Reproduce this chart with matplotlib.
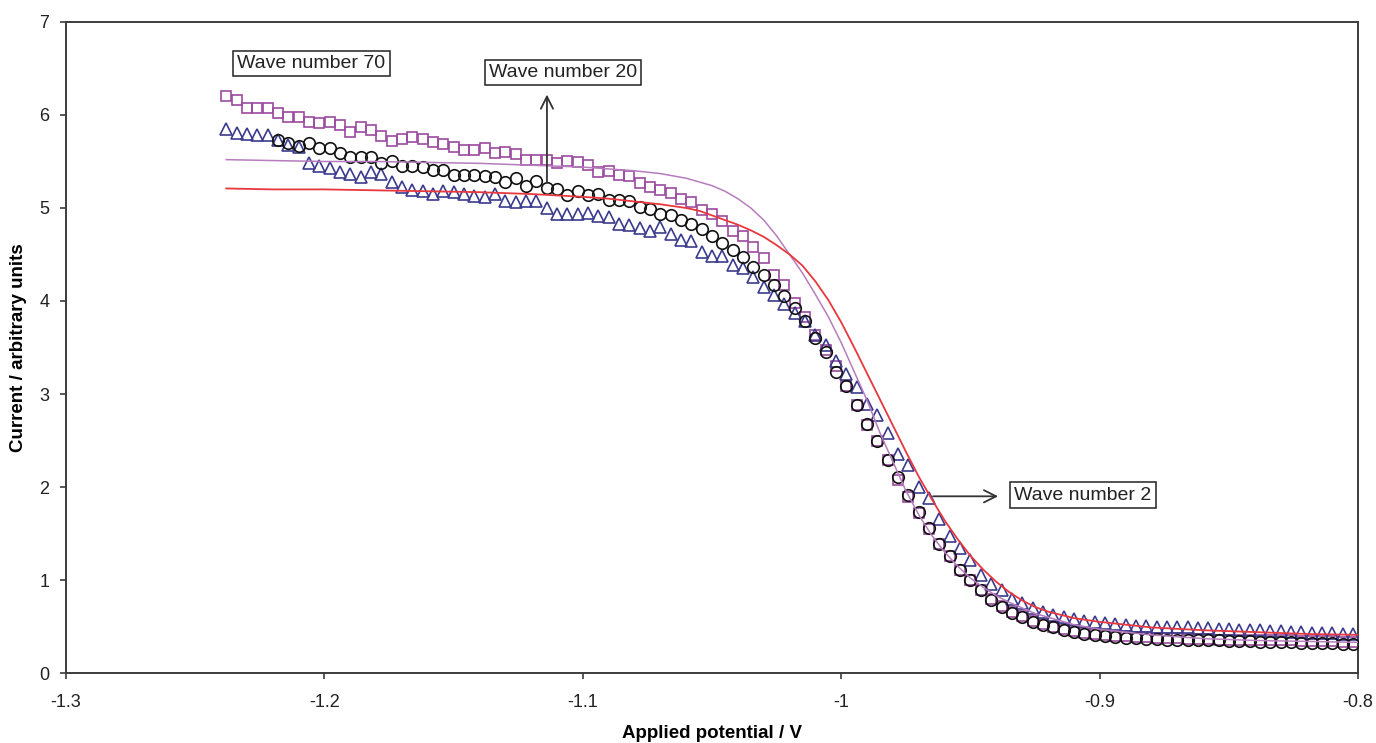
import numpy as np
import matplotlib
matplotlib.use("Agg")
from matplotlib import pyplot as plt

plt.rcParams["font.family"] = ["Liberation Sans", "DejaVu Sans"]

# ------------------------------------------------------------- #
# Data
# ------------------------------------------------------------- #

# measured waves are sampled every 4 mV from -1.238 V
potential_start = -1.238
potential_step = 0.004
potential = np.round(potential_start + potential_step * np.arange(110), 3)

# wave number 70 (squares)
wave70 = [
    6.20, 6.16, 6.07, 6.08, 6.07, 6.02, 5.98, 5.98, 5.92, 5.91,
    5.93, 5.89, 5.82, 5.87, 5.84, 5.77, 5.72, 5.74, 5.76, 5.74,
    5.71, 5.69, 5.66, 5.62, 5.62, 5.64, 5.59, 5.60, 5.58, 5.52,
    5.52, 5.52, 5.48, 5.51, 5.49, 5.46, 5.39, 5.40, 5.35, 5.34,
    5.27, 5.23, 5.19, 5.16, 5.10, 5.06, 4.98, 4.94, 4.86, 4.75,
    4.70, 4.58, 4.46, 4.28, 4.17, 3.98, 3.83, 3.63, 3.47, 3.30,
    3.09, 2.88, 2.67, 2.49, 2.29, 2.08, 1.89, 1.72, 1.55, 1.39,
    1.26, 1.11, 1.00, 0.89, 0.80, 0.72, 0.66, 0.61, 0.56, 0.53,
    0.50, 0.47, 0.45, 0.43, 0.42, 0.41, 0.40, 0.40, 0.39, 0.39,
    0.38, 0.38, 0.38, 0.37, 0.37, 0.37, 0.36, 0.36, 0.36, 0.36,
    0.35, 0.35, 0.35, 0.35, 0.34, 0.34, 0.34, 0.34, 0.33, 0.33,
]

# wave number 20 (circles), starts at the 6th potential
wave20_first = 5
wave20 = [
    5.73, 5.70, 5.67, 5.70, 5.64,
    5.64, 5.59, 5.55, 5.55, 5.55, 5.48, 5.50, 5.45, 5.45, 5.44,
    5.41, 5.41, 5.35, 5.35, 5.36, 5.34, 5.33, 5.28, 5.32, 5.24,
    5.29, 5.22, 5.20, 5.14, 5.18, 5.14, 5.15, 5.09, 5.09, 5.07,
    5.01, 4.99, 4.94, 4.92, 4.87, 4.83, 4.77, 4.70, 4.62, 4.55,
    4.47, 4.37, 4.28, 4.17, 4.05, 3.92, 3.78, 3.60, 3.45, 3.24,
    3.09, 2.88, 2.68, 2.49, 2.29, 2.11, 1.91, 1.73, 1.56, 1.39,
    1.26, 1.11, 1.00, 0.89, 0.79, 0.71, 0.65, 0.60, 0.55, 0.52,
    0.49, 0.46, 0.44, 0.42, 0.41, 0.40, 0.39, 0.38, 0.38, 0.37,
    0.37, 0.36, 0.36, 0.36, 0.35, 0.35, 0.35, 0.34, 0.34, 0.34,
    0.33, 0.33, 0.33, 0.33, 0.32, 0.32, 0.32, 0.32, 0.31, 0.31,
]

# wave number 2 (triangles)
wave2 = [
    5.85, 5.81, 5.80, 5.78, 5.78, 5.73, 5.68, 5.66, 5.48, 5.45,
    5.43, 5.39, 5.37, 5.33, 5.39, 5.37, 5.28, 5.23, 5.19, 5.18,
    5.15, 5.18, 5.17, 5.15, 5.13, 5.12, 5.15, 5.07, 5.06, 5.07,
    5.08, 5.00, 4.94, 4.94, 4.94, 4.95, 4.91, 4.90, 4.83, 4.82,
    4.78, 4.75, 4.80, 4.72, 4.66, 4.64, 4.53, 4.48, 4.48, 4.39,
    4.35, 4.26, 4.15, 4.06, 3.97, 3.87, 3.78, 3.63, 3.53, 3.35,
    3.22, 3.08, 2.89, 2.77, 2.58, 2.36, 2.24, 2.00, 1.88, 1.66,
    1.47, 1.34, 1.22, 1.05, 0.96, 0.89, 0.80, 0.75, 0.70, 0.66,
    0.62, 0.60, 0.58, 0.56, 0.55, 0.54, 0.53, 0.52, 0.51, 0.51,
    0.50, 0.50, 0.49, 0.49, 0.48, 0.48, 0.47, 0.47, 0.46, 0.46,
    0.46, 0.45, 0.45, 0.44, 0.44, 0.43, 0.43, 0.43, 0.42, 0.42,
]

# simulated curves
fit_potential = [
    -1.238, -1.22, -1.20, -1.18, -1.16, -1.14, -1.12, -1.10, -1.09, -1.08,
    -1.07, -1.06, -1.055, -1.05, -1.045, -1.04, -1.035, -1.03, -1.025, -1.02,
    -1.015, -1.01, -1.005, -1.00, -0.995, -0.99, -0.985, -0.98, -0.975, -0.97,
    -0.965, -0.96, -0.955, -0.95, -0.945, -0.94, -0.935, -0.93, -0.925, -0.92,
    -0.91, -0.90, -0.88, -0.86, -0.84, -0.82, -0.80,
]
fit_red = [
    5.21, 5.20, 5.20, 5.19, 5.18, 5.17, 5.15, 5.12, 5.10, 5.07,
    5.04, 5.00, 4.97, 4.92, 4.87, 4.82, 4.76, 4.69, 4.60, 4.50,
    4.38, 4.21, 4.01, 3.77, 3.50, 3.22, 2.94, 2.66, 2.38, 2.11,
    1.87, 1.64, 1.44, 1.26, 1.11, 0.98, 0.87, 0.78, 0.71, 0.66,
    0.59, 0.55, 0.49, 0.46, 0.44, 0.42, 0.41,
]
fit_purple = [
    5.52, 5.51, 5.50, 5.50, 5.49, 5.48, 5.46, 5.44, 5.42, 5.40,
    5.37, 5.32, 5.28, 5.24, 5.18, 5.10, 5.00, 4.87, 4.70, 4.50,
    4.30, 4.07, 3.83, 3.55, 3.24, 2.93, 2.58, 2.27, 1.96, 1.70,
    1.48, 1.30, 1.15, 1.02, 0.92, 0.83, 0.76, 0.70, 0.64, 0.60,
    0.52, 0.47, 0.41, 0.37, 0.35, 0.34, 0.33,
]

x_ticks = [-1.3, -1.2, -1.1, -1.0, -0.9, -0.8]
x_tick_labels = ["-1.3", "-1.2", "-1.1", "-1", "-0.9", "-0.8"]
y_ticks = [0, 1, 2, 3, 4, 5, 6, 7]

# ------------------------------------------------------------- #
# Plot
# ------------------------------------------------------------- #

fig = plt.figure(figsize=(13.76, 7.43), dpi=100)
ax = fig.add_axes([0.048, 0.0942, 0.939, 0.8762])

square_color = "#9b4a9f"
triangle_color = "#3b3b8d"
marker_style = dict(linestyle="none", markerfacecolor="none", markeredgewidth=1.2)

ax.plot(potential, wave70, marker="s", markersize=7.8,
        markeredgecolor=square_color, zorder=2, **marker_style)
ax.plot(potential, wave2, marker="^", markersize=8.4,
        markeredgecolor=triangle_color, zorder=3, **marker_style)
ax.plot(potential[wave20_first:], wave20, marker="o", markersize=8.3,
        markeredgecolor="#111111", zorder=4, **marker_style)

ax.plot(fit_potential, fit_purple, color="#b67cbd", lw=1.1, zorder=5)
ax.plot(fit_potential, fit_red, color="#e8383d", lw=1.3, zorder=6)

ax.set_xlim(-1.3, -0.8)
ax.set_ylim(0, 7)
ax.set_xticks(x_ticks)
ax.set_xticklabels(x_tick_labels)
ax.set_yticks(y_ticks)

for side in ["left", "bottom", "top", "right"]:
    ax.spines[side].set_color("#3c3c3c")
    ax.spines[side].set_linewidth(1.4)

ax.tick_params(axis="both", direction="out", length=4, width=1.2,
               color="#3c3c3c", labelsize=13, labelcolor="#222222")
ax.tick_params(axis="x", pad=11)
ax.tick_params(axis="y", pad=8)

ax.set_xlabel("Applied potential / V", fontsize=13.5, fontweight="bold", labelpad=10)
ax.set_ylabel("Current / arbitrary units", fontsize=13.5, fontweight="bold", labelpad=9)

box = dict(boxstyle="square,pad=0.22", facecolor="white", edgecolor="#222222", linewidth=1.1)
label_style = dict(fontsize=14, ha="center", va="center", color="#222222", bbox=box, zorder=8)

ax.text(-1.205, 6.554, "Wave number 70", **label_style)
ax.text(-1.1077, 6.457, "Wave number 20", **label_style)
ax.text(-0.9066, 1.914, "Wave number 2", **label_style)

arrow = dict(arrowstyle="->", color="#333333", lw=1.3, mutation_scale=22,
             shrinkA=0, shrinkB=0)
ax.annotate("", xy=(-1.1139, 6.22), xytext=(-1.1139, 5.27), arrowprops=arrow, zorder=7)
ax.annotate("", xy=(-0.9393, 1.90), xytext=(-0.9645, 1.90), arrowprops=arrow, zorder=7)

fig.savefig("out.png", dpi=100, facecolor="white")
